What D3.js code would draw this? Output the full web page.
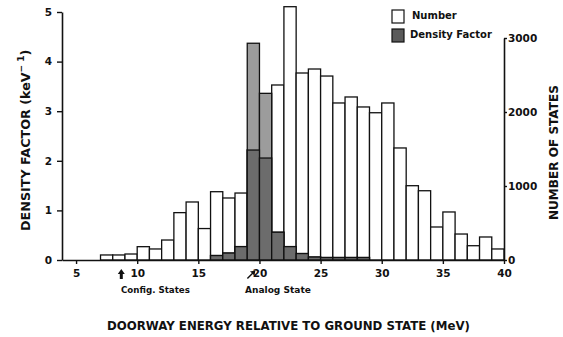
<!DOCTYPE html>
<html>
<head>
<meta charset="utf-8">
<script src="https://cdn.jsdelivr.net/npm/d3@7"></script>
<style>
  body { margin: 0; background: #fff; }
  svg text { font-family: "DejaVu Sans", sans-serif; font-weight: bold; fill: #111; }
  svg text.cond { font-family: "Liberation Sans Narrow", "DejaVu Sans", sans-serif; }
</style>
</head>
<body>
<script>
// bins are 1 MeV wide, value = left edge of bin
var bins = [7, 8, 9, 10, 11, 12, 13, 14, 15, 16, 17, 18, 19, 20, 21, 22, 23,
            24, 25, 26, 27, 28, 29, 30, 31, 32, 33, 34, 35, 36, 37, 38, 39];
var numberStates = [68, 68, 81, 180, 149, 270, 640, 784, 425, 923, 838, 905, 1486, 1378, 2365, 3423, 2527,
                    2581, 2486, 2122, 2203, 2068, 1990, 2122, 1514, 1004, 936, 446, 649, 351, 193, 311, 149];

var densityBins = [16, 17, 18, 19, 20, 21, 22, 23, 24, 25, 26, 27, 28];
var densityFactor = [0.09, 0.14, 0.27, 4.37, 3.36, 0.56, 0.27, 0.13, 0.06, 0.05, 0.05, 0.05, 0.05];

var xTicks = [5, 10, 15, 20, 25, 30, 35, 40];
var leftTicks = [0, 1, 2, 3, 4, 5];
var rightTicks = [0, 1000, 2000, 3000];

var width = 563, height = 337;

var svg = d3.select("body").append("svg")
    .attr("width", width)
    .attr("height", height);

// scales
var x = d3.scaleLinear().domain([3.85, 40]).range([62, 504]);
var yL = d3.scaleLinear().domain([0, 5]).range([260, 12]);
var yR = d3.scaleLinear().domain([0, 3000]).range([260, 38]);

var numData = bins.map(function (b, i) { return {b: b, v: numberStates[i]}; });
var denData = densityBins.map(function (b, i) {
    var j = bins.indexOf(b);
    return {b: b, v: densityFactor[i], n: numberStates[j]};
});

// shrink font so a text gets the wanted length
function fit(sel, target) {
    var fs = +sel.attr("font-size");
    var len = sel.node().getComputedTextLength();
    sel.attr("font-size", (fs * target / len).toFixed(2));
}

// number bars (white)
svg.append("g").selectAll("rect")
    .data(numData)
    .enter().append("rect")
    .attr("x", function (d) { return x(d.b); })
    .attr("width", function (d) { return x(d.b + 1) - x(d.b); })
    .attr("y", function (d) { return yR(d.v); })
    .attr("height", function (d) { return yR(0) - yR(d.v); })
    .attr("fill", "#fff")
    .attr("stroke", "#111")
    .attr("stroke-width", 1.3);

// density bars (light gray)
svg.append("g").selectAll("rect")
    .data(denData)
    .enter().append("rect")
    .attr("x", function (d) { return x(d.b); })
    .attr("width", function (d) { return x(d.b + 1) - x(d.b); })
    .attr("y", function (d) { return yL(d.v); })
    .attr("height", function (d) { return yL(0) - yL(d.v); })
    .attr("fill", "#9c9c9c")
    .attr("stroke", "#111")
    .attr("stroke-width", 1.3);

// overlap of number and density (darker)
svg.append("g").selectAll("rect")
    .data(denData)
    .enter().append("rect")
    .attr("x", function (d) { return x(d.b); })
    .attr("width", function (d) { return x(d.b + 1) - x(d.b); })
    .attr("y", function (d) { return Math.max(yL(d.v), yR(d.n)); })
    .attr("height", function (d) { return 260 - Math.max(yL(d.v), yR(d.n)); })
    .attr("fill", "#6c6c6c")
    .attr("stroke", "#111")
    .attr("stroke-width", 1.3);

// axes
function styleAxis(g) {
    g.selectAll("path.domain").attr("stroke", "#111").attr("stroke-width", 1.6);
    g.selectAll(".tick line").attr("stroke", "#111").attr("stroke-width", 1.4);
    g.selectAll(".tick text").attr("font-size", 10.5).attr("font-family", "DejaVu Sans").attr("font-weight", "bold").attr("fill", "#111");
}

svg.append("g")
    .attr("transform", "translate(0,260)")
    .call(d3.axisBottom(x).tickValues(xTicks).tickSize(4).tickSizeOuter(0).tickPadding(6).tickFormat(d3.format("d")))
    .call(styleAxis);

svg.append("g")
    .attr("transform", "translate(62,0)")
    .call(d3.axisLeft(yL).tickValues(leftTicks).tickSize(5).tickSizeOuter(0).tickPadding(5).tickFormat(d3.format("d")))
    .call(styleAxis);

svg.append("g")
    .attr("transform", "translate(504,0)")
    .call(d3.axisRight(yR).tickValues(rightTicks).tickSize(3).tickSizeOuter(0).tickPadding(1).tickFormat(d3.format("d")))
    .call(styleAxis);

// annotations under x axis
svg.append("path")
    .attr("d", "M" + (x(8.7) - 1.5) + ",279 v-5 h-2 l3.5,-5 l3.5,5 h-2 v5 z")
    .attr("fill", "#111");
svg.append("path")
    .attr("d", "M" + (x(19.3) - 4) + ",278 l5,-5 l-2,-1.5 l5.5,-1 l-1,5.5 l-1.5,-2 l-5,5 z")
    .attr("fill", "#111");

fit(svg.append("text")
    .attr("x", 121).attr("y", 293)
    .attr("font-size", 10)
    .text("Config. States"), 69);

fit(svg.append("text")
    .attr("x", 245).attr("y", 293)
    .attr("font-size", 10)
    .text("Analog State"), 66);

// axis titles
fit(svg.append("text").attr("class", "cond")
    .attr("x", 107).attr("y", 330)
    .attr("font-size", 14)
    .text("DOORWAY ENERGY RELATIVE TO GROUND STATE (MeV)"), 363);

var lt = svg.append("text").attr("class", "cond")
    .attr("transform", "translate(30,231) rotate(-90)")
    .attr("font-size", 13);
lt.append("tspan").text("DENSITY FACTOR (keV");
lt.append("tspan").attr("font-size", 9).attr("dy", -6).text("\u2212 1");
lt.append("tspan").attr("dy", 6).text(")");
fit(lt, 181);

fit(svg.append("text").attr("class", "cond")
    .attr("transform", "translate(558,220) rotate(-90)")
    .attr("font-size", 13)
    .text("NUMBER OF STATES"), 135);

// legend
var legend = [{name: "Number", fill: "#fff"}, {name: "Density Factor", fill: "#5a5a5a"}];
var lg = svg.append("g").selectAll("g")
    .data(legend)
    .enter().append("g")
    .attr("transform", function (d, i) { return "translate(392," + (10 + i * 19) + ")"; });
lg.append("rect")
    .attr("width", 12).attr("height", 13)
    .attr("fill", function (d) { return d.fill; })
    .attr("stroke", "#111").attr("stroke-width", 1.2);
lg.append("text")
    .attr("x", function (d, i) { return i ? 18 : 20; })
    .attr("y", 9)
    .attr("font-size", 10)
    .text(function (d) { return d.name; });
</script>
</body>
</html>
